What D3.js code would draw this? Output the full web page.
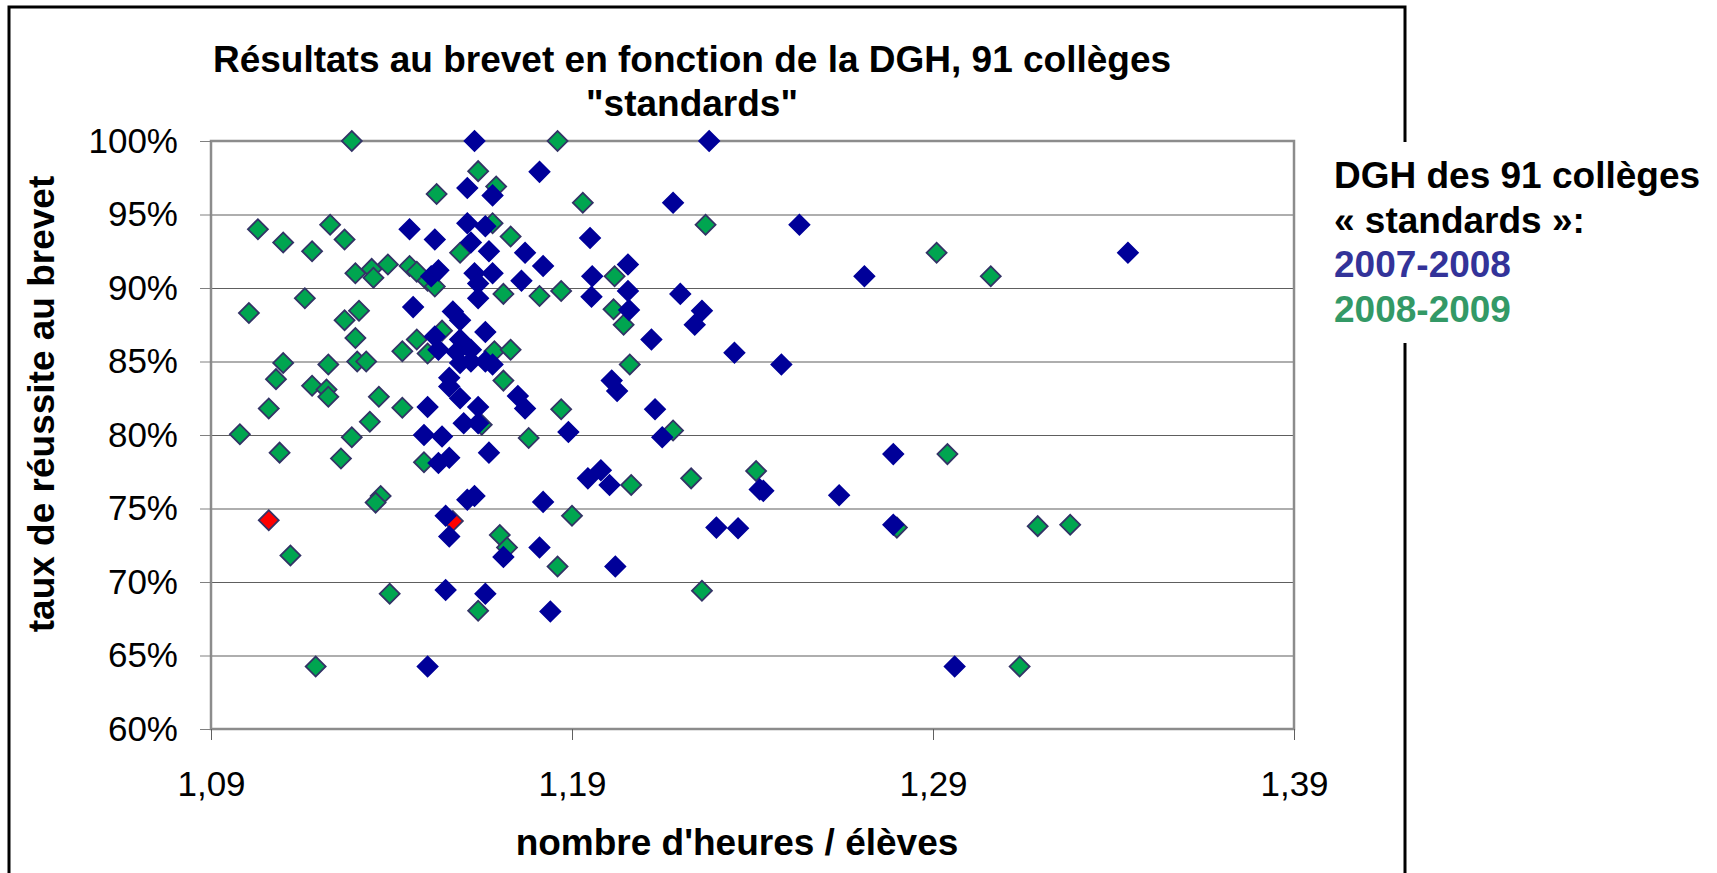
<!DOCTYPE html>
<html>
<head>
<meta charset="utf-8">
<script src="https://cdn.jsdelivr.net/npm/d3@7"></script>
<style>
  body { margin: 0; background: #fff; }
  svg { display: block; font-family: "Liberation Sans", Arial, sans-serif; }
</style>
</head>
<body>
<svg id="chart" width="1717" height="873"></svg>
<script>
const titleLines = ['Résultats au brevet en fonction de la DGH, 91 collèges', '"standards"'];
const xLabel = "nombre d'heures / élèves";
const yLabel = 'taux de réussite au brevet';
const legendLines = ['DGH des 91 collèges', '« standards »:'];
const seriesNames = ['2007-2008', '2008-2009'];

const xTicks = [1.09, 1.19, 1.29, 1.39];
const yTicks = [60, 65, 70, 75, 80, 85, 90, 95, 100];

// [heures / élève, taux de réussite %]
const dgh0708 = [
  [1.163, 100], [1.228, 100], [1.161, 96.8], [1.168, 96.3], [1.181, 97.9],
  [1.218, 95.8], [1.253, 94.3], [1.145, 94.0], [1.161, 94.4], [1.166, 94.2],
  [1.152, 93.3], [1.162, 93.1], [1.167, 92.5], [1.195, 93.4], [1.177, 92.4],
  [1.182, 91.5], [1.2055, 91.6], [1.151, 90.8], [1.153, 91.2], [1.163, 91.0],
  [1.168, 91.0], [1.176, 90.5], [1.164, 90.3], [1.1956, 90.8], [1.271, 90.8],
  [1.344, 92.4], [1.164, 89.3], [1.1954, 89.4], [1.2055, 89.8], [1.220, 89.6],
  [1.146, 88.7], [1.157, 88.4], [1.159, 87.8], [1.2058, 88.5], [1.226, 88.45],
  [1.224, 87.5], [1.166, 87.0], [1.152, 86.7], [1.159, 86.5], [1.212, 86.5],
  [1.153, 85.8], [1.158, 85.65], [1.162, 85.8], [1.159, 84.9], [1.162, 85.0],
  [1.166, 85.0], [1.168, 84.8], [1.235, 85.6], [1.248, 84.8], [1.156, 83.9],
  [1.156, 83.3], [1.159, 82.5], [1.175, 82.65], [1.177, 81.8], [1.164, 81.9],
  [1.150, 81.9], [1.201, 83.7], [1.2025, 83.0], [1.213, 81.75], [1.160, 80.8],
  [1.164, 80.8], [1.149, 80.0], [1.154, 79.9], [1.189, 80.2], [1.215, 79.85],
  [1.167, 78.8], [1.153, 78.1], [1.156, 78.45], [1.279, 78.7], [1.1944, 77.05],
  [1.198, 77.6], [1.2004, 76.6], [1.242, 76.3], [1.243, 76.2], [1.264, 75.9],
  [1.161, 75.6], [1.163, 75.85], [1.182, 75.45], [1.155, 74.5], [1.156, 73.1],
  [1.230, 73.7], [1.236, 73.65], [1.279, 73.9], [1.171, 71.7], [1.181, 72.35],
  [1.202, 71.05], [1.155, 69.45], [1.166, 69.2], [1.184, 68.0], [1.150, 64.25],
  [1.296, 64.25]
];

const dgh0809 = [
  [1.129, 100], [1.186, 100], [1.164, 97.95], [1.169, 96.9], [1.1525, 96.4],
  [1.193, 95.8], [1.227, 94.3], [1.103, 94.0], [1.123, 94.3], [1.110, 93.1],
  [1.127, 93.3], [1.118, 92.5], [1.168, 94.4], [1.173, 93.5], [1.159, 92.4],
  [1.291, 92.4], [1.130, 91.0], [1.1345, 91.3], [1.135, 90.7], [1.139, 91.6],
  [1.145, 91.5], [1.147, 91.1], [1.150, 90.5], [1.152, 90.1], [1.2018, 90.8],
  [1.306, 90.8], [1.171, 89.6], [1.181, 89.45], [1.187, 89.8], [1.116, 89.3],
  [1.1005, 88.3], [1.131, 88.45], [1.127, 87.8], [1.2015, 88.55], [1.2043, 87.5],
  [1.130, 86.6], [1.154, 87.1], [1.147, 86.5], [1.143, 85.7], [1.150, 85.55],
  [1.1685, 85.7], [1.173, 85.8], [1.110, 84.9], [1.1225, 84.8], [1.1305, 85.0],
  [1.133, 85.0], [1.206, 84.8], [1.108, 83.8], [1.118, 83.35], [1.122, 83.1],
  [1.1225, 82.6], [1.1365, 82.6], [1.171, 83.7], [1.106, 81.8], [1.143, 81.85],
  [1.187, 81.75], [1.134, 80.9], [1.165, 80.7], [1.098, 80.05], [1.129, 79.85],
  [1.178, 79.8], [1.218, 80.3], [1.109, 78.8], [1.126, 78.4], [1.149, 78.15],
  [1.294, 78.7], [1.241, 77.55], [1.223, 77.05], [1.2064, 76.6], [1.137, 75.85],
  [1.1356, 75.4], [1.190, 74.5], [1.280, 73.7], [1.319, 73.8], [1.328, 73.9],
  [1.170, 73.2], [1.172, 72.35], [1.112, 71.8], [1.186, 71.05], [1.226, 69.4],
  [1.1395, 69.2], [1.164, 68.05], [1.119, 64.25], [1.314, 64.25]
];

// points mis en rouge
const highlighted = [[1.106, 74.2], [1.157, 74.15]];

const svg = d3.select('#chart');
const margin = { top: 141, left: 211 };
const width = 1083;
const height = 588;

const x = d3.scaleLinear().domain([1.09, 1.39]).range([margin.left, margin.left + width]);
const y = d3.scaleLinear().domain([60, 100]).range([margin.top + height, margin.top]);

const fr = d3.formatLocale({ decimal: ',', thousands: ' ', grouping: [3], currency: ['', ' €'] });

// outer frame, cut by the legend
svg.append('path')
  .attr('d', 'M9,900 V7 H1405 V900')
  .attr('fill', 'none')
  .attr('stroke', '#000')
  .attr('stroke-width', 3);
svg.append('rect')
  .attr('x', 1320).attr('y', 142)
  .attr('width', 397).attr('height', 201)
  .attr('fill', '#fff');

// gridlines
const grid = svg.append('g')
  .attr('transform', `translate(${margin.left},0)`)
  .call(d3.axisLeft(y).tickValues(yTicks.slice(1, -1)).tickSize(-width).tickFormat(''));
grid.select('.domain').remove();
grid.selectAll('line').attr('stroke', '#5e5e5e').attr('stroke-width', 1.2);

// plot border
svg.append('rect')
  .attr('x', margin.left).attr('y', margin.top)
  .attr('width', width).attr('height', height)
  .attr('fill', 'none')
  .attr('stroke', '#8c8c8c')
  .attr('stroke-width', 2.5);

// axes
const yAxis = svg.append('g')
  .attr('transform', `translate(${margin.left},0)`)
  .call(d3.axisLeft(y).tickValues(yTicks).tickSize(11).tickPadding(22).tickFormat(d => d + '%'));
yAxis.select('.domain').remove();
yAxis.selectAll('line').attr('stroke', '#808080');
yAxis.selectAll('text').attr('font-size', 35).attr('fill', '#000')
  .style('font-family', '"Liberation Sans", Arial, sans-serif');

const xAxis = svg.append('g')
  .attr('transform', `translate(0,${margin.top + height})`)
  .call(d3.axisBottom(x).tickValues(xTicks).tickSize(11).tickPadding(31).tickFormat(fr.format('.2f')));
xAxis.select('.domain').remove();
xAxis.selectAll('line').attr('stroke', '#606060');
xAxis.selectAll('text').attr('font-size', 35).attr('fill', '#000')
  .style('font-family', '"Liberation Sans", Arial, sans-serif');

// markers
const diamond = d3.symbol(d3.symbolSquare, 200);

function drawSeries(data, fill, stroke) {
  svg.append('g')
    .selectAll('path')
    .data(data)
    .join('path')
    .attr('transform', d => `translate(${x(d[0])},${y(d[1])}) rotate(45)`)
    .attr('d', diamond)
    .attr('fill', fill)
    .attr('stroke', stroke)
    .attr('stroke-width', 1.8);
}

drawSeries(dgh0809, '#00a550', '#333366');
drawSeries(highlighted, '#ff0000', '#333366');
drawSeries(dgh0708, '#000099', '#000099');

// title
svg.append('g')
  .selectAll('text')
  .data(titleLines)
  .join('text')
  .attr('x', 692)
  .attr('y', (d, i) => 72 + i * 44)
  .attr('text-anchor', 'middle')
  .attr('font-size', 37)
  .attr('font-weight', 'bold')
  .text(d => d);

svg.append('text')
  .attr('x', 737).attr('y', 855)
  .attr('text-anchor', 'middle')
  .attr('font-size', 37)
  .attr('font-weight', 'bold')
  .text(xLabel);

svg.append('text')
  .attr('transform', 'translate(54,404) rotate(-90)')
  .attr('text-anchor', 'middle')
  .attr('font-size', 37)
  .attr('font-weight', 'bold')
  .text(yLabel);

// legend
const legend = svg.append('g').attr('font-size', 37).attr('font-weight', 'bold');
legendLines.concat(seriesNames).forEach((t, i) => {
  legend.append('text')
    .attr('x', 1334)
    .attr('y', 188 + i * 44.7)
    .attr('fill', i < 2 ? '#000' : (i === 2 ? '#333399' : '#339966'))
    .text(t);
});
</script>
</body>
</html>
